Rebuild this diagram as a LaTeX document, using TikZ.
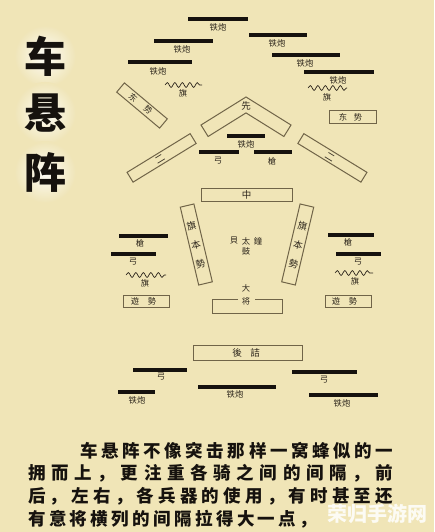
\documentclass[tikz,border=0pt]{standalone}
\usepackage{fontspec}
\newfontfamily\cjk{Noto Sans CJK SC}
\usetikzlibrary{decorations.pathmorphing}
\definecolor{bg}{RGB}{240,229,183}
\definecolor{boxc}{RGB}{112,100,72}
\definecolor{barc}{RGB}{22,18,14}
\definecolor{labc}{RGB}{45,38,28}
\def\sprA#1{#1\sprB}
\def\sprB#1{\ifx#1\relax\else\hfil#1\expandafter\sprB\fi}
\newcommand\spreadline[2]{\makebox[#1][s]{\sprA#2\relax}}
\begin{document}
\begin{tikzpicture}[x=1pt,y=-1pt,
  bar/.style={line width=4pt, draw=barc},
  lab/.style={font=\cjk\fontsize{8.3}{8.3}\selectfont, text=labc, inner sep=0pt},
  blab/.style={font=\cjk\fontsize{9.5}{9.5}\selectfont, text=labc, inner sep=0pt},
  wbox/.style={draw=boxc, line width=1pt, rectangle, inner sep=0pt},
  wave/.style={draw=labc, line width=0.7pt, decorate, decoration={snake, segment length=7.5pt, amplitude=2.4pt}},
  para/.style={font=\cjk\bfseries\fontsize{17.5}{17.5}\selectfont, text=barc, inner sep=0pt, anchor=west},
  title/.style={font=\cjk\bfseries\fontsize{42}{42}\selectfont, text=barc, inner sep=0pt}]
\fill[bg] (0,0) rectangle (434,532);
\useasboundingbox (0,0) rectangle (434,532);

% title with glow
\foreach \yy in {56,113,172}{
  \shade[inner color=white, outer color=bg, opacity=0.9] (45,\yy) ellipse (31pt and 31pt);
}
\node[title] (t1) at (45,56) {车};
\node[title] (t2) at (45,113) {悬};
\node[title] (t3) at (45,172) {阵};

% top-left bars
\draw[bar] (188,19) -- (248,19);  \node[lab] (l1) at (218,27) {铁炮};
\draw[bar] (154,41) -- (213,41);  \node[lab] (l2) at (182,49) {铁炮};
\draw[bar] (128,62) -- (192,62);  \node[lab] (l3) at (158,71) {铁炮};
\draw[wave] (165,85) -- (202,85); \node[lab] (f1) at (183,93) {旗};
% top-right bars
\draw[bar] (249,35) -- (307,35);  \node[lab] (l4) at (277,43) {铁炮};
\draw[bar] (272,55) -- (340,55);  \node[lab] (l5) at (305,63) {铁炮};
\draw[bar] (304,72) -- (374,72);  \node[lab] (l6) at (338,80) {铁炮};
\draw[wave] (308,88) -- (347,88); \node[lab] (f2) at (327,97) {旗};

% wing boxes
\node[wbox, rotate=-40, minimum width=56pt, minimum height=12pt] (wl) at (142,105.5) {};
\node[lab, rotate=-40] (wl1) at (133,97.5) {东};
\node[lab, rotate=-40] (wl2) at (148,110) {势};
\node[wbox, minimum width=47pt, minimum height=12pt] (wr) at (352.5,117) {};
\node[lab] (wr1) at (343,117) {东};
\node[lab] (wr2) at (358,117) {势};

% chevron
\draw[boxc, line width=1pt] (201,125) -- (246,97) -- (291,125) -- (283.9,136.5) -- (246,112.9) -- (208.1,136.5) -- cycle;
\node[blab] (xian) at (246,106) {先};

\draw[bar] (227,136) -- (265,136); \node[lab] (l7) at (246,144) {铁炮};
\draw[bar] (199,152) -- (239,152); \node[lab] (g1) at (218,161) {弓};
\draw[bar] (254,152) -- (292,152); \node[lab] (q1) at (272,161) {槍};

% second boxes
\node[wbox, rotate=31.5, minimum width=74pt, minimum height=11.5pt] (el) at (161.6,157.9) {};
\node[blab, rotate=31.5] (el1) at (160,159) {二};
\node[wbox, rotate=-31.5, minimum width=74pt, minimum height=11.5pt] (er) at (332.4,157.9) {};
\node[blab, rotate=-31.5] (er1) at (330,157) {二};

% centre box
\node[wbox, minimum width=91pt, minimum height=13pt] (zhong) at (246.5,194.5) {};
\node[blab] (zl) at (246.5,194.5) {中};

% hatamoto boxes
\node[wbox, rotate=-76.7, minimum width=80pt, minimum height=14pt] (hl) at (196.3,244.5) {};
\node[blab, rotate=13] (hl1) at (191.5,226) {旗};
\node[blab, rotate=13] (hl2) at (196,245) {本};
\node[blab, rotate=13] (hl3) at (200.5,264) {勢};
\node[wbox, rotate=76.7, minimum width=80pt, minimum height=14pt] (hr) at (297.7,244.5) {};
\node[blab, rotate=-13] (hr1) at (302.5,226) {旗};
\node[blab, rotate=-13] (hr2) at (298,245) {本};
\node[blab, rotate=-13] (hr3) at (293.5,264) {勢};

% centre instruments
\node[lab] (c1) at (234,241) {貝};
\node[lab] (c2) at (246,241) {太};
\node[lab] (c3) at (258,241) {鐘};
\node[lab] (c4) at (246,251) {鼓};

% general
\node[lab] (gen1) at (246,288) {大};
\node[lab] (gen2) at (246,301) {将};
\draw[boxc, line width=1pt] (238,299) -- (212,299) -- (212,313) -- (282,313) -- (282,299) -- (255,299);

% left flank
\draw[bar] (119,236) -- (168,236); \node[lab] (q2) at (140,243) {槍};
\draw[bar] (111,254) -- (156,254); \node[lab] (g2) at (133,262) {弓};
\draw[wave] (126,275) -- (166,275); \node[lab] (f3) at (145,283) {旗};
\node[wbox, minimum width=46pt, minimum height=12pt] (yl) at (146,301) {};
\node[lab] (yl1) at (135,301) {遊};
\node[lab] (yl2) at (152,301) {勢};
% right flank
\draw[bar] (328,235) -- (374,235); \node[lab] (q3) at (348,242) {槍};
\draw[bar] (336,254) -- (381,254); \node[lab] (g3) at (358,262) {弓};
\draw[wave] (335,273) -- (373,273); \node[lab] (f4) at (355,281) {旗};
\node[wbox, minimum width=46pt, minimum height=12pt] (yr) at (348,301) {};
\node[lab] (yr1) at (336,301) {遊};
\node[lab] (yr2) at (353,301) {勢};

% rear
\node[wbox, minimum width=109pt, minimum height=15pt] (hou) at (247.5,352.5) {};
\node[blab] (hou1) at (237,352.5) {後};
\node[blab] (hou2) at (255,352.5) {詰};

\draw[bar] (133,370) -- (187,370); \node[lab] (g4) at (161,377) {弓};
\draw[bar] (118,392) -- (155,392); \node[lab] (l8) at (137,400) {铁炮};
\draw[bar] (198,387) -- (276,387); \node[lab] (l9) at (235,394) {铁炮};
\draw[bar] (292,372) -- (357,372); \node[lab] (g5) at (324,380) {弓};
\draw[bar] (309,395) -- (378,395); \node[lab] (l10) at (342,403) {铁炮};

% paragraph
\node[para] (p1) at (80,451) {\spreadline{313pt}{车悬阵不像突击那样一窝蜂似的一}};
\node[para] (p2) at (28,473.5) {\spreadline{365pt}{拥而上，更注重各骑之间的间隔，前}};
\node[para] (p3) at (28,496.5) {\spreadline{365pt}{后，左右，各兵器的使用，有时甚至还}};
\node[para] (p4) at (28,519) {\spreadline{289pt}{有意将横列的间隔拉得大一点，}};

% watermark
\node[font=\cjk\bfseries\fontsize{20}{20}\selectfont, text=white, opacity=0.85, inner sep=0pt] (wm) at (377,514) {荣归手游网};
\end{tikzpicture}
\end{document}
